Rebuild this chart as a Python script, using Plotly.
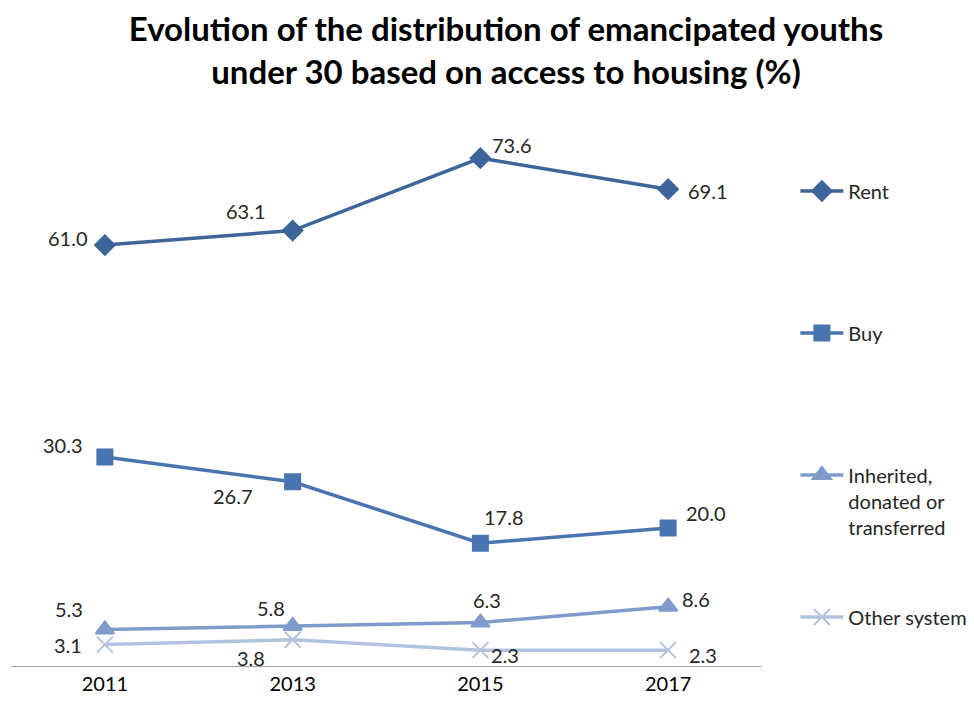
import plotly.graph_objects as go

years = ["2011", "2013", "2015", "2017"]
rent = [61.0, 63.1, 73.6, 69.1]
buy = [30.3, 26.7, 17.8, 20.0]
inherited = [5.3, 5.8, 6.3, 8.6]
other = [3.1, 3.8, 2.3, 2.3]

names = ["Rent<br> <br> ", "Buy<br> <br> ", "Inherited,<br>donated or<br>transferred", "Other system"]
colors = ["#3D6599", "#4874B0", "#7F9BCB", "#B3C3DF"]
symbols = ["diamond", "square", "triangle-up", "x-thin-open"]
sizes = [15, 15, 16, 16]
# label offsets (px) from each point: (dx right, dy up)
label_shift = [
    [(-37, 7), (-47, 20), (32, 13), (40, -2)],
    [(-42, 12), (-60, -14), (24, 26), (38, 15)],
    [(-36, 20), (-22, 18), (7, 23), (28, 8)],
    [(-37, 0), (-42, -18), (25, -5), (35, -5)],
]
series = [rent, buy, inherited, other]

FONT = "Lato, Carlito, Calibri, sans-serif"

fig = go.Figure()
for i, vals in enumerate(series):
    fig.add_trace(go.Scatter(
        x=years, y=vals, name=names[i], mode="lines+markers",
        line=dict(color=colors[i], width=3.5),
        marker=dict(symbol=symbols[i], size=sizes[i], color=colors[i],
                    line=dict(color=colors[i], width=2)),
        legendgroup=str(i), cliponaxis=False,
    ))
    for j, v in enumerate(vals):
        dx, dy = label_shift[i][j]
        # category axis: annotation x is the category index
        fig.add_annotation(x=j, y=v, xref="x", yref="y", text=f"{v:.1f}",
                           showarrow=False, xshift=dx, yshift=dy,
                           xanchor="center", yanchor="middle",
                           font=dict(size=20, color="#262626", family=FONT))

fig.update_layout(
    width=974, height=706,
    paper_bgcolor="white", plot_bgcolor="white",
    margin=dict(l=11, r=212, t=114, b=40),
    title=dict(text="<b>Evolution of the distribution of emancipated youths<br>under 30 based on access to housing (%)</b>",
               x=0.5195, xanchor="center", y=0.9419, yanchor="middle",
               font=dict(size=33, color="black", family=FONT)),
    xaxis=dict(type="category", range=[-0.5, 3.5], showline=True, linecolor="#A6A6A6",
               linewidth=1, showgrid=False, ticks="", tickfont=dict(size=20, color="black", family=FONT),
               zeroline=False),
    yaxis=dict(range=[0, 80], visible=False, showgrid=False, zeroline=False),
    legend=dict(xref="container", yref="container", x=0.8166, y=0.7571,
                xanchor="left", yanchor="top", tracegroupgap=61,
                font=dict(size=20, color="#262626", family=FONT), valign="top",
                itemwidth=43, bgcolor="rgba(0,0,0,0)", maxheight=700),
    showlegend=True,
)
fig.write_html("out.html", post_script="document.body.style.margin='0';",
               config={"displayModeBar": False})
